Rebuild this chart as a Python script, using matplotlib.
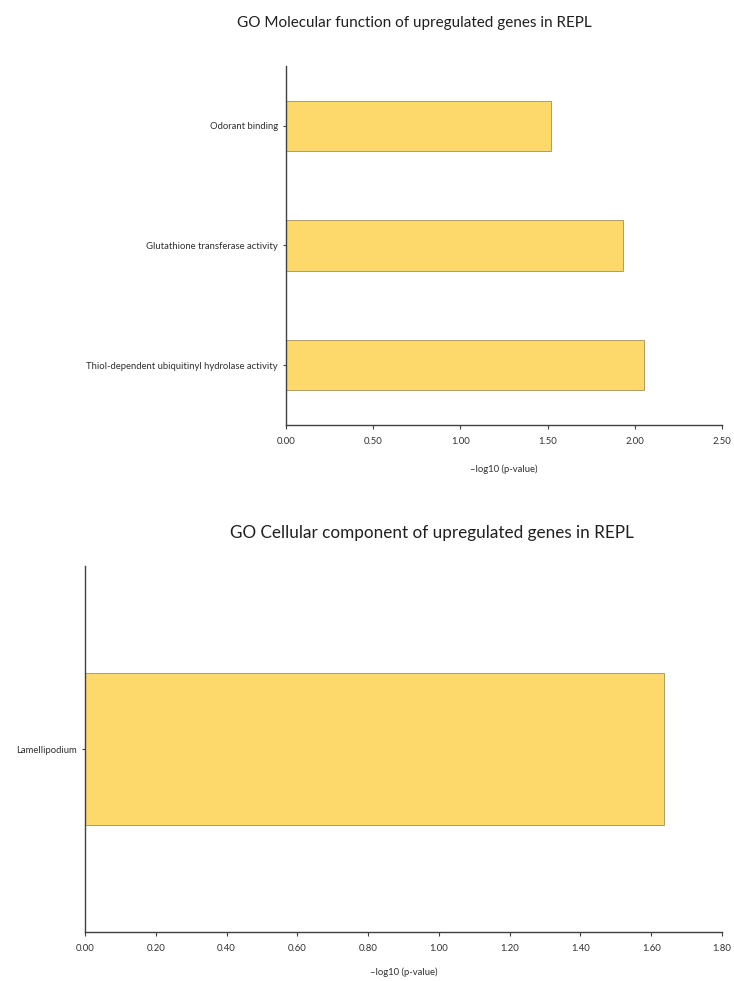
import matplotlib
matplotlib.use("Agg")
import matplotlib.pyplot as plt

plt.rcParams['font.family'] = ['Lato', 'DejaVu Sans']

mf_terms = ["Thiol-dependent ubiquitinyl hydrolase activity",
            "Glutathione transferase activity",
            "Odorant binding"]
mf_values = [2.05, 1.93, 1.52]
mf_ticks = [0.0, 0.5, 1.0, 1.5, 2.0, 2.5]

cc_terms = ["Lamellipodium"]
cc_values = [1.635]
cc_ticks = [0.0, 0.2, 0.4, 0.6, 0.8, 1.0, 1.2, 1.4, 1.6, 1.8]

bar_color = "#FDD86A"
edge_color = "#A09060"
spine_color = "#404040"
text_color = "#303030"

fig = plt.figure(figsize=(7.34, 9.81), dpi=100)

def style(ax, ticks, xmax, n, lpad):
    ax.set_xlim(0, xmax)
    ax.set_ylim(-0.5, n - 0.5)
    ax.set_xticks(ticks)
    ax.set_xticklabels([f"{t:.2f}" for t in ticks], fontsize=6.8, color=text_color)
    for s in ["top", "right"]:
        ax.spines[s].set_visible(False)
    for s in ["left", "bottom"]:
        ax.spines[s].set_color(spine_color)
        ax.spines[s].set_linewidth(1.0)
    ax.tick_params(axis="both", direction="out", length=3, width=0.8,
                   color=spine_color, pad=6)
    ax.tick_params(axis="y", labelsize=6.8, labelcolor=text_color, length=2, pad=4)
    ax.set_xlabel("\u2013log10 (p-value)", fontsize=6.8, color=text_color, labelpad=lpad)

ax1 = fig.add_axes([0.3896, 0.5668, 0.5941, 0.366])
ax1.barh(range(len(mf_terms)), mf_values, height=0.42, color=bar_color,
         edgecolor=edge_color, linewidth=0.6)
ax1.set_yticks(range(len(mf_terms)))
ax1.set_yticklabels(mf_terms)
style(ax1, mf_ticks, 2.5, len(mf_terms), 13)
fig.text(0.565, 0.977, "GO Molecular function of upregulated genes in REPL",
         ha="center", va="center", fontsize=11, color="#202020")

ax2 = fig.add_axes([0.1158, 0.04995, 0.8678, 0.373])
ax2.barh(range(len(cc_terms)), cc_values, height=0.415, color=bar_color,
         edgecolor=edge_color, linewidth=0.6)
ax2.set_yticks(range(len(cc_terms)))
ax2.set_yticklabels(cc_terms)
style(ax2, cc_ticks, 1.8, len(cc_terms), 10)
fig.text(0.589, 0.4567, "GO Cellular component of upregulated genes in REPL",
         ha="center", va="center", fontsize=12.3, color="#202020")

fig.savefig("out.png", dpi=100)
